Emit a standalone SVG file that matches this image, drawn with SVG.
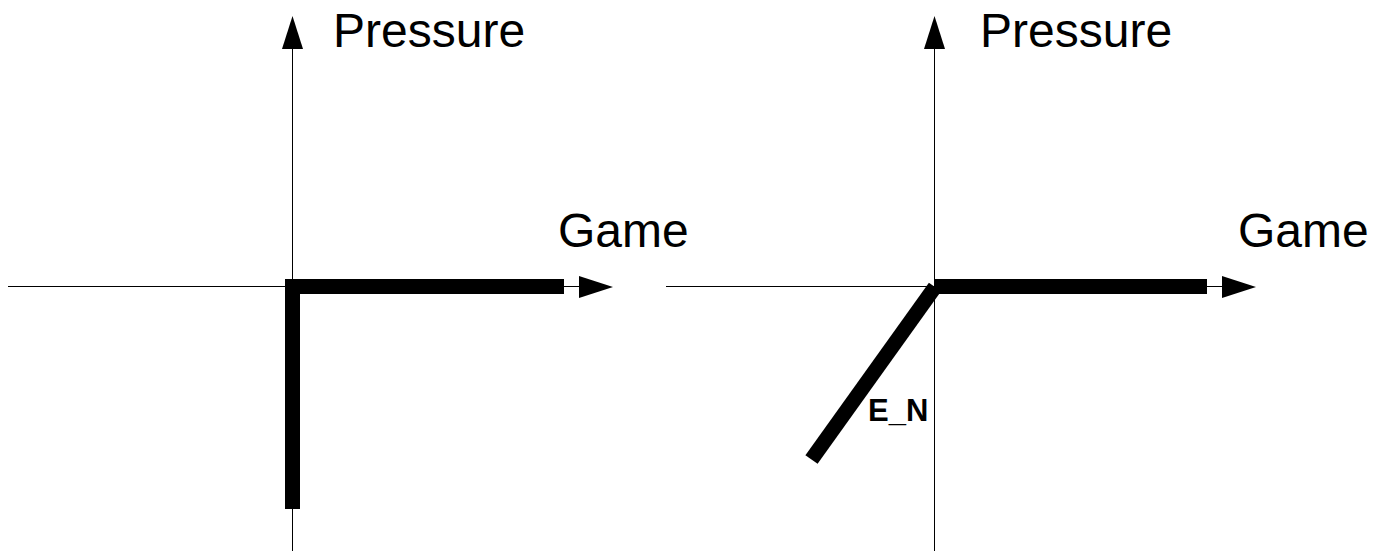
<svg xmlns="http://www.w3.org/2000/svg" width="1382" height="551" viewBox="0 0 1382 551">
<style>
.axis{stroke:#000;stroke-width:1;fill:none}
.thick{stroke:#000;stroke-width:15;fill:none;stroke-linecap:butt}
.head{fill:#000}
.lbl{font-family:"Liberation Sans",Arial,sans-serif;font-size:48px;fill:#000}
.small{font-family:"Liberation Sans",Arial,sans-serif;font-size:31px;font-weight:bold;fill:#000}
</style>
<g id="connectors">
<line class="axis" x1="292.5" y1="48" x2="292.5" y2="551"/>
<line class="axis" x1="8" y1="286.5" x2="580" y2="286.5"/>
<polygon class="head" points="292.5,16 282,49 303,49"/>
<polygon class="head" points="613,287 579,276 579,298"/>
<line class="axis" x1="934.5" y1="48" x2="934.5" y2="551"/>
<line class="axis" x1="666" y1="286.5" x2="1223" y2="286.5"/>
<polygon class="head" points="934.5,16 924,49 945,49"/>
<polygon class="head" points="1256,287 1222,276 1222,298"/>
</g>
<g id="curve-left">
<line class="thick" x1="292.5" y1="286.5" x2="564" y2="286.5"/>
<line class="thick" x1="292.5" y1="279" x2="292.5" y2="509"/>
</g>
<g id="curve-right">
<line class="thick" x1="934" y1="286.5" x2="1207" y2="286.5"/>
<line class="thick" x1="811.5" y1="459.5" x2="935" y2="287"/>
</g>
<g id="label-pressure-left"><text class="lbl" x="333" y="47">Pressure</text></g>
<g id="label-game-left"><text class="lbl" x="558" y="247">Game</text></g>
<g id="label-pressure-right"><text class="lbl" x="980" y="47">Pressure</text></g>
<g id="label-game-right"><text class="lbl" x="1238" y="247">Game</text></g>
<g id="label-en"><text class="small" x="868" y="421">E_N</text></g>
</svg>
